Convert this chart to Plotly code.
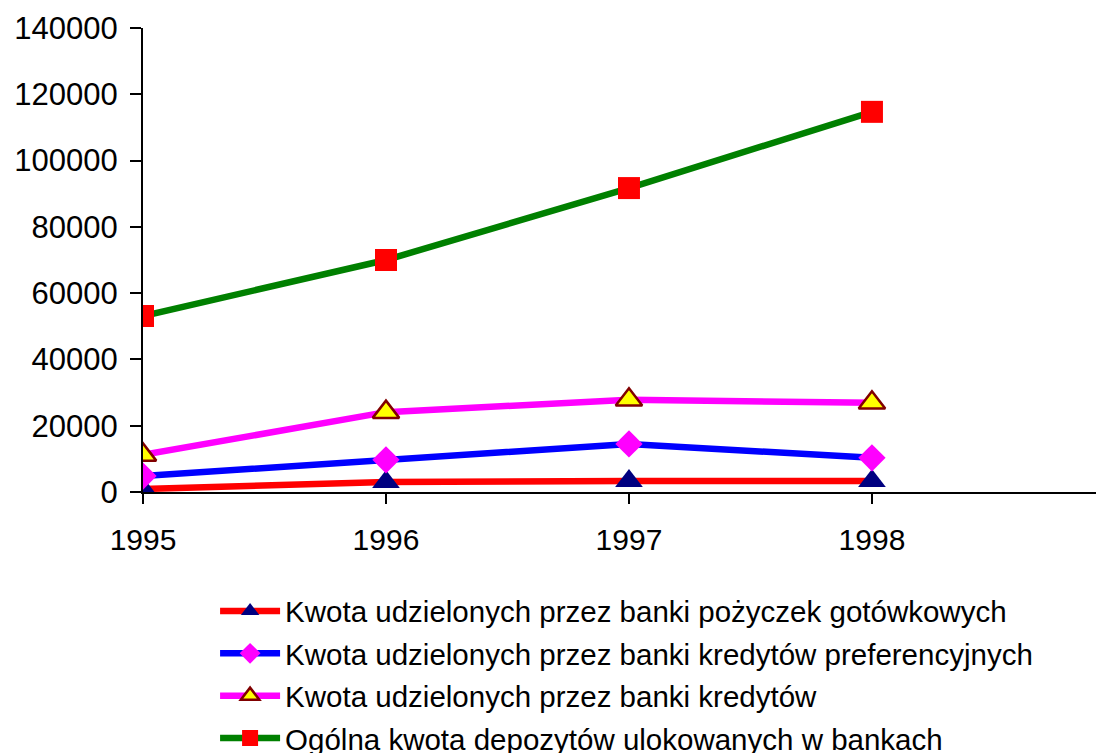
import plotly.graph_objects as go

years = [1995, 1996, 1997, 1998]
pozyczki = [900, 3000, 3300, 3300]
preferencyjne = [4800, 9700, 14500, 10300]
kredyty = [11200, 24100, 27800, 26900]
depozyty = [53100, 70000, 91700, 114700]

names = [
    "Kwota udzielonych przez banki pożyczek gotówkowych",
    "Kwota udzielonych przez banki kredytów preferencyjnych",
    "Kwota udzielonych przez banki kredytów",
    "Ogólna kwota depozytów ulokowanych w bankach",
]
y_ticks = [0, 20000, 40000, 60000, 80000, 100000, 120000, 140000]

fig = go.Figure()
specs = [
    (pozyczki, "#FF0000", "triangle-up", "#000080", 24, None),
    (preferencyjne, "#0000FF", "diamond", "#FF00FF", 21, None),
    (kredyty, "#FF00FF", "triangle-up", "#FFFF00", 23, "#800000"),
    (depozyty, "#008000", "square", "#FF0000", 22, None),
]
for i, (vals, lc, sym, mc, ms, mlc) in enumerate(specs):
    fig.add_trace(go.Scatter(
        x=years, y=vals, name=names[i], mode="lines+markers",
        line=dict(color=lc, width=6.5),
        marker=dict(symbol=sym, color=mc, size=ms,
                    line=dict(color=mlc if mlc else mc, width=2.5 if mlc else 0)),
        legendgroup=f"g{i}",
    ))

fig.update_layout(
    width=1096, height=745,
    margin=dict(l=135, r=0, t=20, b=261, autoexpand=False),
    paper_bgcolor="white", plot_bgcolor="white",
    font=dict(family="Liberation Sans, Arial, sans-serif", color="black", size=30),
    showlegend=True,
    legend=dict(x=0.075, y=-0.201, xanchor="left", yanchor="top",
                font=dict(size=29.5), tracegroupgap=1, itemwidth=60,
                bgcolor="rgba(0,0,0,0)"),
    xaxis=dict(range=[1995, 1998.955], tickvals=years, ticktext=[str(y) for y in years],
               showgrid=False, zeroline=False, showline=True, linecolor="black", linewidth=2,
               ticks="outside", ticklen=10, tickwidth=2, tickcolor="black",
               tickfont=dict(size=30), ticklabelstandoff=10),
    yaxis=dict(range=[0, 140000], tickvals=y_ticks, ticktext=[str(v) for v in y_ticks],
               showgrid=False, zeroline=False, showline=True, linecolor="black", linewidth=2,
               ticks="outside", ticklen=11, tickwidth=2, tickcolor="black",
               tickfont=dict(size=31), ticklabelstandoff=6),
)
fig.write_html("out.html")
